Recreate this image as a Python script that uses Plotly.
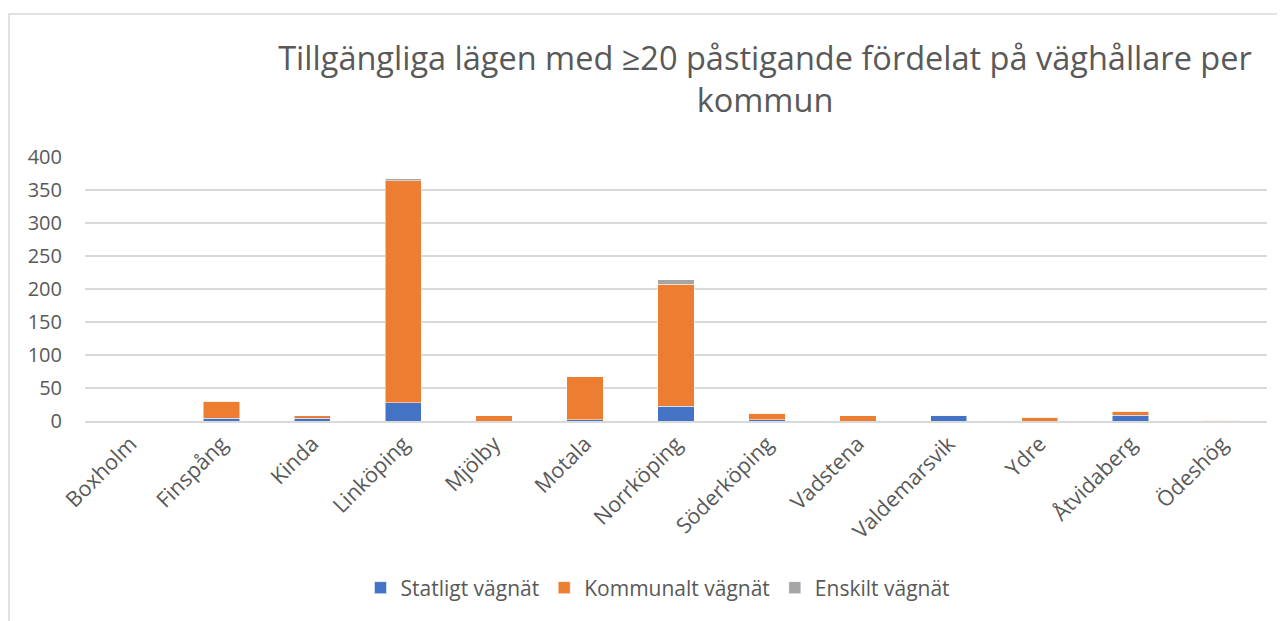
import plotly.graph_objects as go

kommuner = ["Boxholm", "Finspång", "Kinda", "Linköping", "Mjölby", "Motala",
            "Norrköping", "Söderköping", "Vadstena", "Valdemarsvik", "Ydre",
            "Åtvidaberg", "Ödeshög"]
statligt = [0, 4, 4, 28, 0, 2, 22, 2, 0, 8, 0, 9, 0]
kommunalt = [0, 26, 4, 336, 8, 65, 185, 10, 8, 1, 6, 6, 1]
enskilt = [0, 0, 0, 3, 0, 0, 7, 0, 0, 0, 0, 0, 0]
y_ticks = [0, 50, 100, 150, 200, 250, 300, 350, 400]

W, H = 1285, 621
OFF = 8  # page body margin
ML, MR, MT, MB = 85 - OFF, 18 + OFF, 157 - OFF, 200 + OFF
pw, ph = W - ML - MR, H - MT - MB

font_family = "Open Sans, sans-serif"
txt = "#595959"

fig = go.Figure()
for name, vals, col in [("Statligt vägnät", statligt, "#4472C4"),
                        ("Kommunalt vägnät", kommunalt, "#ED7D31"),
                        ("Enskilt vägnät", enskilt, "#A5A5A5")]:
    fig.add_trace(go.Bar(x=kommuner, y=vals, name=name,
                         marker=dict(color=col, line=dict(color="white", width=0.5))))

def px_x(x):
    return (x - OFF - ML) / pw

def px_y(y):
    return (H - MB - (y - OFF)) / ph

fig.update_layout(
    width=W, height=H,
    margin=dict(l=ML, r=MR, t=MT, b=MB, autoexpand=False),
    barmode="stack", bargap=0.6,
    paper_bgcolor="white", plot_bgcolor="white",
    font=dict(family=font_family, color=txt, size=20),
    title=dict(text="Tillgängliga lägen med ≥20 påstigande fördelat på väghållare per<br>kommun",
               x=(765 - OFF) / W, xanchor="center", xref="container",
               y=1 - 62 / H, yanchor="top", yref="container",
               font=dict(size=32.5, color=txt, family=font_family)),
    xaxis=dict(tickangle=-45, tickfont=dict(size=21.5, color=txt),
               showgrid=False, showline=True, linecolor="#D9D9D9", linewidth=1.5,
               ticks=""),
    yaxis=dict(range=[0, 400], tickvals=y_ticks, tickfont=dict(size=20, color=txt),
               showgrid=True, gridcolor="#D9D9D9", gridwidth=1.5,
               zeroline=False, showline=False, ticks="", ticklabelstandoff=22),
    legend=dict(orientation="h", x=px_x(658), xanchor="center",
                y=px_y(588), yanchor="middle",
                font=dict(size=21, color=txt), traceorder="normal",
                itemwidth=30),
    shapes=[dict(type="rect", xref="paper", yref="paper",
                 x0=px_x(9), x1=px_x(W + 30), y0=px_y(H + 30), y1=px_y(14),
                 line=dict(color="#D9D9D9", width=1.5), fillcolor="rgba(0,0,0,0)",
                 layer="below")],
)

fig.write_html("out.html")
